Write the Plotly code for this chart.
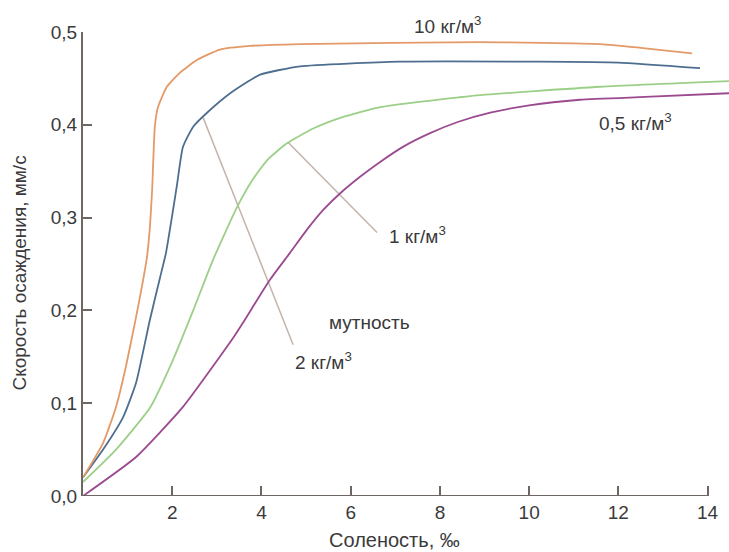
import plotly.graph_objects as go

# --- data ---
x_10 = [0.0, 0.45, 0.74, 0.96, 1.19, 1.345, 1.435, 1.50, 1.55, 1.61, 1.68, 1.88, 2.17, 2.56, 3.07, 3.74, 4.87, 8.9, 11.6, 12.5, 13.65]
y_10 = [0.020, 0.057, 0.096, 0.139, 0.193, 0.232, 0.258, 0.290, 0.330, 0.398, 0.419, 0.441, 0.456, 0.470, 0.481, 0.485, 0.487, 0.489, 0.487, 0.483, 0.477]

x_2 = [0.0, 0.45, 0.9, 1.19, 1.5, 1.73, 1.86, 2.1, 2.24, 2.47, 2.78, 3.3, 3.97, 4.87, 7.1, 10.2, 12.0, 13.83]
y_2 = [0.020, 0.050, 0.085, 0.122, 0.190, 0.236, 0.262, 0.333, 0.376, 0.398, 0.413, 0.434, 0.454, 0.463, 0.468, 0.468, 0.467, 0.461]

x_1 = [0.0, 0.74, 1.5, 2.02, 2.47, 2.91, 3.45, 3.79, 4.13, 4.57, 5.16, 5.8, 6.66, 8.68, 11.6, 14.48]
y_1 = [0.015, 0.050, 0.095, 0.147, 0.200, 0.254, 0.311, 0.340, 0.362, 0.380, 0.396, 0.408, 0.419, 0.431, 0.441, 0.447]

x_05 = [0.0, 1.19, 2.24, 3.36, 3.59, 4.19, 4.64, 5.02, 5.38, 5.76, 6.21, 6.66, 7.2, 7.78, 8.4, 9.13, 10.0, 11.14, 12.6, 14.48]
y_05 = [0.0, 0.042, 0.096, 0.170, 0.187, 0.233, 0.262, 0.287, 0.308, 0.326, 0.344, 0.360, 0.377, 0.391, 0.403, 0.413, 0.421, 0.427, 0.430, 0.434]

# leader lines for labels
lead_2_x = [2.69, 4.71]
lead_2_y = [0.408, 0.163]
lead_1_x = [4.60, 6.59]
lead_1_y = [0.381, 0.284]

x_ticks = [2, 4, 6, 8, 10, 12, 14]
x_tick_text = ["2", "4", "6", "8", "10", "12", "14"]
y_ticks = [0.0, 0.1, 0.2, 0.3, 0.4, 0.5]
y_tick_text = ["0,0", "0,1", "0,2", "0,3", "0,4", "0,5"]

labels = ["10 кг/м<sup>3</sup>", "0,5 кг/м<sup>3</sup>", "1 кг/м<sup>3</sup>", "мутность", "2 кг/м<sup>3</sup>"]
label_x = [7.38, 11.52, 6.82, 5.47, 4.71]
label_y = [0.5075, 0.403, 0.281, 0.1875, 0.1455]

x_title = "Соленость, ‰"
y_title = "Скорость осаждения, мм/с"

x_axis_end = 14
x_range = [0, 14.48]
y_range = [0, 0.5]

TXT = "#3a3a3a"
AX = "#6e6663"
FONT = "Liberation Sans, Arial, sans-serif"
FS = 19

fig = go.Figure()
lead_col = "#c4b3ab"
for lx, ly in [(lead_2_x, lead_2_y), (lead_1_x, lead_1_y)]:
    fig.add_trace(go.Scatter(x=lx, y=ly, mode="lines", line=dict(color=lead_col, width=1.5),
                             hoverinfo="skip", showlegend=False))

series = [
    (x_05, y_05, "#9b4a90"),
    (x_1, y_1, "#9ccf88"),
    (x_2, y_2, "#4e6e90"),
    (x_10, y_10, "#e39a68"),
]
for xs, ys, c in series:
    fig.add_trace(go.Scatter(x=xs, y=ys, mode="lines",
                             line=dict(color=c, width=1.8, shape="spline", smoothing=0.5),
                             showlegend=False))

# bottom spine from 0 to 14
fig.add_shape(type="line", x0=0, x1=x_axis_end, y0=0, y1=0, xref="x", yref="y",
              line=dict(color=AX, width=2))

for t, xx, yy in zip(labels, label_x, label_y):
    fig.add_annotation(x=xx, y=yy / y_range[1], xref="x", yref="paper", text=t, showarrow=False,
                       xanchor="left", yanchor="middle",
                       font=dict(size=FS, color=TXT, family=FONT))

# axis titles
fig.add_annotation(x=6.98, y=-0.0948, xref="x", yref="paper", text=x_title, showarrow=False,
                   xanchor="center", yanchor="middle", font=dict(size=20, color=TXT, family=FONT))
fig.add_annotation(x=-0.0998, y=0.4806, xref="paper", yref="paper", text=y_title, showarrow=False,
                   textangle=-90, xanchor="center", yanchor="middle",
                   font=dict(size=FS, color=TXT, family=FONT))

fig.update_layout(
    width=729, height=552,
    margin=dict(l=83, r=0, t=32, b=56),
    paper_bgcolor="white", plot_bgcolor="white",
    font=dict(family=FONT, color=TXT, size=FS),
    xaxis=dict(range=x_range, showgrid=False, zeroline=False, showline=False,
               tickmode="array", tickvals=x_ticks, ticktext=x_tick_text,
               ticks="inside", ticklen=10, tickwidth=2, tickcolor=AX,
               tickfont=dict(size=FS, color=TXT), ticklabelstandoff=3),
    yaxis=dict(range=y_range, showgrid=False, zeroline=False, showline=True, linecolor=AX, linewidth=2,
               tickmode="array", tickvals=y_ticks, ticktext=y_tick_text,
               ticks="inside", ticklen=9, tickwidth=2, tickcolor=AX,
               tickfont=dict(size=FS, color=TXT)),
)

fig.write_html("out.html")
